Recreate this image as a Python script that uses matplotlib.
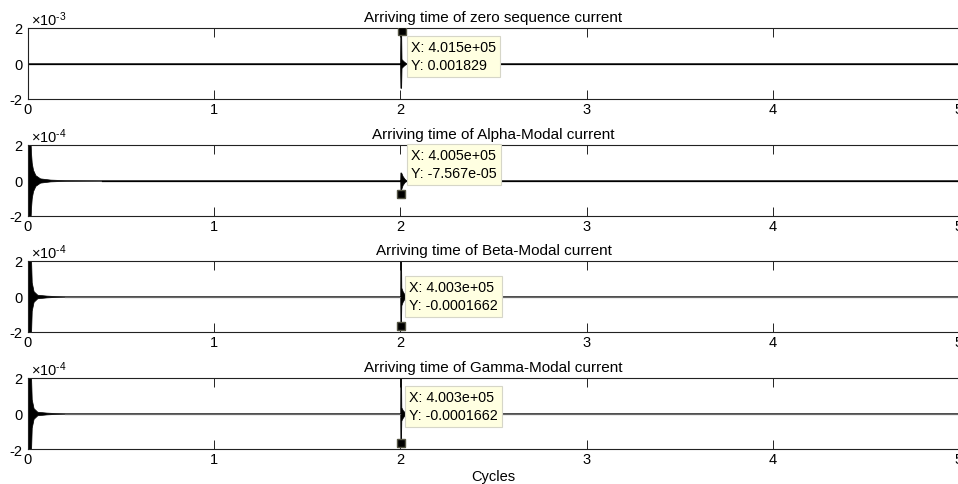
import numpy as np
import matplotlib.pyplot as plt

plt.rcParams['font.family'] = ['Liberation Sans', 'DejaVu Sans']
plt.rcParams['mathtext.fontset'] = 'custom'
plt.rcParams['mathtext.rm'] = 'Liberation Sans'
plt.rcParams['mathtext.it'] = 'Liberation Sans:italic'

SAMPLES_PER_CYCLE = 2e5

titles = [
    "Arriving time of zero sequence current",
    "Arriving time of Alpha-Modal current",
    "Arriving time of Beta-Modal current",
    "Arriving time of Gamma-Modal current",
]
y_scales = [1e-3, 1e-4, 1e-4, 1e-4]
y_exponents = [-3, -4, -4, -4]

# signal envelopes (upper / lower), time in cycles
zero_t = [0, 1.998, 2.0, 2.004, 2.006, 2.015, 2.025, 2.035, 5]
zero_hi = [0, 0, 1.83e-3, 1.83e-3, 0.25e-3, 0.15e-3, 0.06e-3, 0, 0]
zero_lo = [0, 0, -1.37e-3, -1.37e-3, -0.25e-3, -0.15e-3, -0.06e-3, 0, 0]

alpha_t = [0, 0.012, 0.016, 0.02, 0.027, 0.04, 0.065, 0.12, 0.2, 0.4,
           1.999, 2.0, 2.004, 2.012, 2.022, 2.032, 5]
alpha_hi = [2.6e-4, 2.6e-4, 1.6e-4, 1.0e-4, 0.6e-4, 0.3e-4, 0.12e-4, 0.05e-4, 0.02e-4, 0,
            0, 0.45e-4, 0.45e-4, 0.25e-4, 0.1e-4, 0, 0]
alpha_lo = [-2.6e-4, -2.6e-4, -1.6e-4, -1.0e-4, -0.6e-4, -0.3e-4, -0.12e-4, -0.05e-4, -0.02e-4, 0,
            0, -0.5e-4, -0.5e-4, -0.25e-4, -0.1e-4, 0, 0]

beta_t = [0, 0.015, 0.02, 0.03, 0.05, 0.1, 0.2,
          1.999, 2.0, 2.003, 2.005, 2.012, 2.022, 2.032, 5]
beta_hi = [2.6e-4, 2.6e-4, 0.8e-4, 0.3e-4, 0.1e-4, 0.05e-4, 0,
           0, 2.6e-4, 2.6e-4, 0.5e-4, 0.3e-4, 0.12e-4, 0, 0]
beta_lo = [-2.6e-4, -2.6e-4, -0.8e-4, -0.3e-4, -0.1e-4, -0.05e-4, 0,
           0, -1.66e-4, -1.66e-4, -0.5e-4, -0.3e-4, -0.12e-4, 0, 0]

gamma_t = [0, 0.015, 0.02, 0.03, 0.05, 0.1, 0.2,
           1.999, 2.0, 2.003, 2.005, 2.012, 2.022, 2.032, 5]
gamma_hi = [2.6e-4, 2.6e-4, 0.8e-4, 0.3e-4, 0.1e-4, 0.05e-4, 0,
            0, 2.6e-4, 2.6e-4, 0.35e-4, 0.2e-4, 0.08e-4, 0, 0]
gamma_lo = [-2.6e-4, -2.6e-4, -0.8e-4, -0.3e-4, -0.1e-4, -0.05e-4, 0,
            0, -1.66e-4, -1.66e-4, -0.4e-4, -0.25e-4, -0.1e-4, 0, 0]

signals = [(zero_t, zero_hi, zero_lo), (alpha_t, alpha_hi, alpha_lo),
           (beta_t, beta_hi, beta_lo), (gamma_t, gamma_hi, gamma_lo)]
rest_colors = ["black", "black", "#6a6a6a", "#6a6a6a"]

# data tips (x in samples)
tip_x = [4.015e5, 4.005e5, 4.003e5, 4.003e5]
tip_y = [0.001829, -7.567e-05, -0.0001662, -0.0001662]

x_ticks = [0, 1, 2, 3, 4, 5]

# layout in pixels
W, H = 958, 485
ax_left, ax_right = 28, 959
ax_tops = [29, 146, 262, 379]
ax_h = 71
box_corners = [(407, 37), (407, 145), (405, 277), (405, 387)]  # top-left of data-tip boxes

fig = plt.figure(figsize=(W / 100, H / 100), dpi=100)

for i in range(4):
    top = ax_tops[i]
    ax = fig.add_axes([ax_left / W, 1 - (top + ax_h) / H, (ax_right - ax_left) / W, ax_h / H])
    t, hi, lo = [np.asarray(a, dtype=float) for a in signals[i]]
    s = y_scales[i]

    ax.fill_between(t, lo, hi, facecolor="black", edgecolor="black", linewidth=0.5)
    flat = np.where((hi - lo) == 0, 0.0, np.nan)
    ax.plot(t, flat, color=rest_colors[i], linewidth=0.9)

    ax.plot(tip_x[i] / SAMPLES_PER_CYCLE, tip_y[i], marker="s", markersize=5.5,
            markerfacecolor="black", markeredgecolor="#555544", linestyle="none", zorder=5)

    bx, by = box_corners[i]
    label = "X: %.3e\nY: %.4g" % (tip_x[i], tip_y[i])
    ax.annotate(label, xy=(tip_x[i] / SAMPLES_PER_CYCLE, tip_y[i]),
                xytext=(bx + 4, H - by - 4), textcoords="figure pixels",
                ha="left", va="top", fontsize=10.3, linespacing=1.4,
                annotation_clip=False, zorder=6,
                bbox=dict(boxstyle="square,pad=0.3", facecolor="#ffffe1",
                          edgecolor="#d6d6c8", linewidth=0.8))

    ax.set_xlim(0, 5)
    ax.set_ylim(-2 * s, 2 * s)
    ax.set_xticks(x_ticks)
    ax.set_xticklabels([str(v) for v in x_ticks])
    ax.set_yticks([-2 * s, 0, 2 * s])
    ax.set_yticklabels(["-2", "0", "2"])
    ax.tick_params(direction="in", length=6.5, width=0.6, top=True, right=True,
                   labelsize=10.5, pad=4)
    ax.tick_params(axis="x", pad=2)
    for sp in ax.spines.values():
        sp.set_linewidth(0.8)
        sp.set_color("#222222")

    ax.set_title(titles[i], fontsize=11, pad=5)
    ax.text(0.003, 1.0, r"$\times10^{\text{-%d}}$" % abs(y_exponents[i]), transform=ax.transAxes,
            ha="left", va="bottom", fontsize=10.5)

    if i == 3:
        ax.set_xlabel("Cycles", fontsize=10.5, labelpad=2)

fig.savefig("out.png", dpi=100)
